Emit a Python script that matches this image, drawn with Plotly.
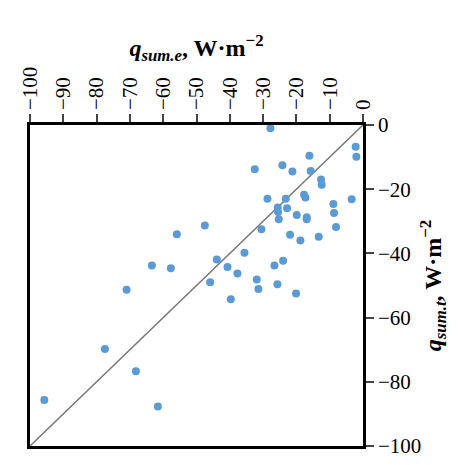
import plotly.graph_objects as go

q_exp = [-27.8,-2.2,-2.0,-16.1,-32.5,-24.2,-21.2,-15.7,-12.6,-12.4,-28.7,-23.2,-17.7,-17.3,-3.4,-8.9,-8.7,-25.6,-25.5,-22.8,-19.9,-16.9,-16.9,-25.3,-8.1,-47.5,-55.9,-30.5,-21.9,-18.8,-13.3,-35.6,-43.9,-63.4,-57.7,-40.7,-26.6,-24.0,-37.7,-45.9,-31.9,-31.4,-25.7,-20.1,-39.7,-71.0,-77.5,-68.2,-95.7,-61.6]
q_theo = [-1.0,-6.8,-9.9,-9.6,-13.8,-12.5,-14.5,-14.3,-17.0,-18.6,-23.0,-23.0,-21.7,-22.6,-23.1,-24.6,-27.4,-25.7,-27.1,-25.9,-28.0,-28.7,-29.4,-29.4,-31.8,-31.3,-34.0,-32.5,-34.2,-36.0,-34.8,-39.8,-41.9,-43.8,-44.6,-44.2,-43.8,-42.3,-46.3,-49.0,-48.1,-51.1,-49.6,-52.5,-54.3,-51.3,-69.8,-76.7,-85.7,-87.7]
diag = [-100, 0]
ticks = list(range(-100, 1, 10))
yticks = list(range(-100, 1, 20))

font = "Liberation Serif"
fig = go.Figure()
fig.add_trace(go.Scatter(x=diag, y=diag, mode="lines", line=dict(color="#777777", width=1.5), hoverinfo="skip"))
fig.add_trace(go.Scatter(x=q_exp, y=q_theo, mode="markers", marker=dict(color="#5b9bd5", size=8)))
fig.update_layout(
    width=474, height=465, showlegend=False, plot_bgcolor="white", paper_bgcolor="white",
    margin=dict(l=22, r=119, t=117, b=27),
    font=dict(family=font, size=21, color="black"),
    xaxis=dict(range=[-100, 0], side="top", tickvals=ticks, ticktext=[("−" if t < 0 else "") + str(abs(t)) for t in ticks],
               tickangle=-90, ticks="outside", ticklen=8, tickwidth=2, showline=True, linewidth=2.5, linecolor="black",
               mirror=True, showgrid=False, zeroline=False, automargin=False,
               title=dict(text="<b><i>q<sub>sum.e</sub></i>, W·m<sup>−2</sup></b>", font=dict(size=24), standoff=4)),
    yaxis=dict(range=[-100, 0], side="right", tickvals=yticks, ticktext=[("−" if t < 0 else "") + str(abs(t)) for t in yticks],
               ticks="outside", ticklen=8, tickwidth=2, showline=True, linewidth=2.5, linecolor="black",
               mirror=True, showgrid=False, zeroline=False, automargin=False,
               title=dict(text="<b><i>q<sub>sum.t</sub></i>, W·m<sup>−2</sup></b>", font=dict(size=24), standoff=4)),
)
fig.write_html("out.html")
